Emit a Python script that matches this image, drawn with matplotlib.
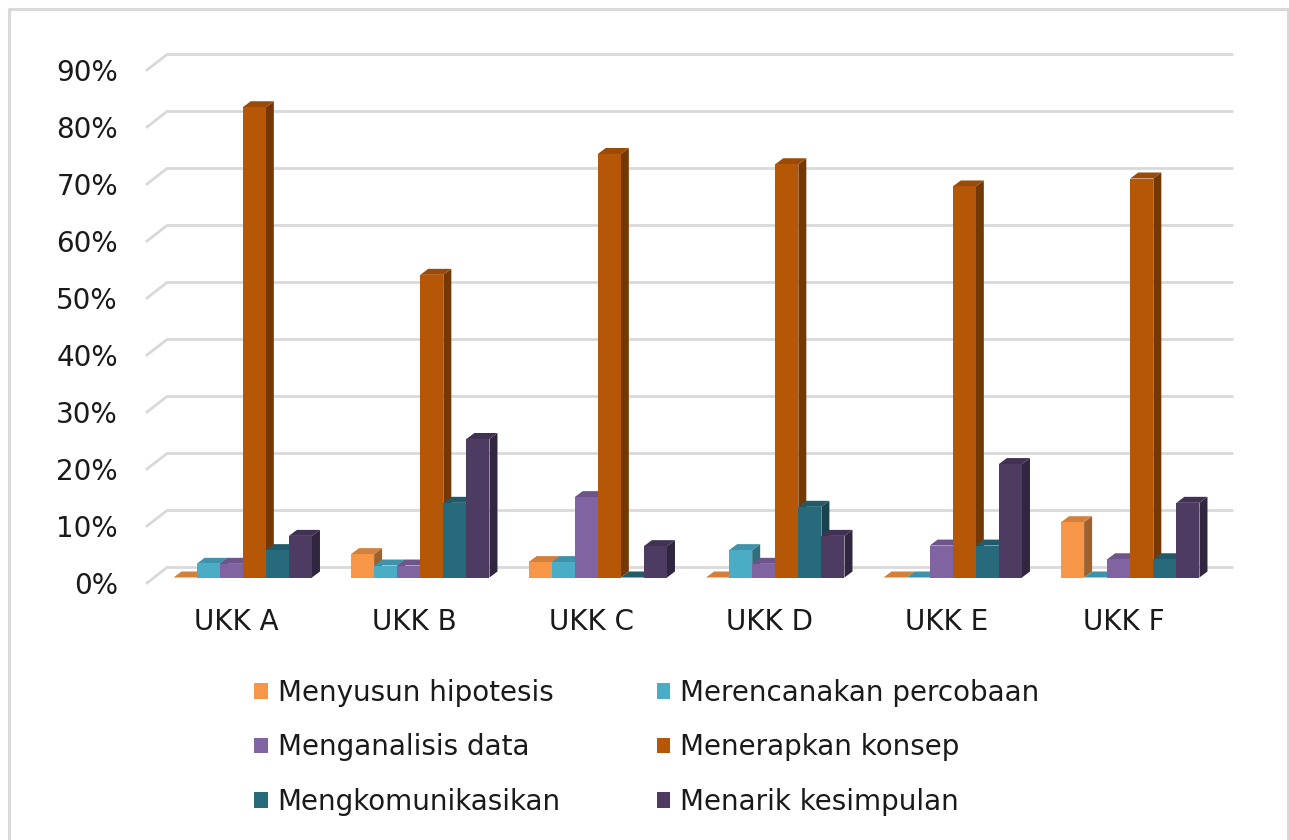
import matplotlib
matplotlib.use("Agg")
import matplotlib.pyplot as plt
from matplotlib.patches import Polygon, Patch
from matplotlib.lines import Line2D
from matplotlib.transforms import ScaledTranslation
import matplotlib.colors as mcolors

# data (percent)
categories = ["UKK A", "UKK B", "UKK C", "UKK D", "UKK E", "UKK F"]
series_names = ["Menyusun hipotesis", "Merencanakan percobaan", "Menganalisis data",
                "Menerapkan konsep", "Mengkomunikasikan", "Menarik kesimpulan"]
menyusun = [0.0, 4.1, 2.7, 0.0, 0.0, 9.7]
merencanakan = [2.4, 2.1, 2.7, 4.8, 0.0, 0.0]
menganalisis = [2.4, 2.1, 14.1, 2.4, 5.6, 3.2]
menerapkan = [82.5, 53.1, 74.3, 72.5, 68.6, 70.0]
mengkomunikasikan = [4.8, 13.1, 0.0, 12.4, 5.6, 3.2]
menarik = [7.3, 24.3, 5.5, 7.3, 19.9, 13.1]
values = [menyusun, merencanakan, menganalisis, menerapkan, mengkomunikasikan, menarik]
yticks = [0, 10, 20, 30, 40, 50, 60, 70, 80, 90]

colors = ["#F79646", "#4BACC6", "#8064A2", "#B65708", "#276A7C", "#4D3B62"]

W, H, DPI = 1289, 840, 100
fig = plt.figure(figsize=(W / DPI, H / DPI), dpi=DPI)

# axes placed so that the bar front plane maps to known pixels
x_left_px, x_right_px = 154, 1219
y0_px, px_per_pct = 577.5, 5.7
ax = fig.add_axes([x_left_px / W, (H - y0_px) / H,
                   (x_right_px - x_left_px) / W, 90 * px_per_pct / H])
ax.set_xlim(-0.5, 5.5)
ax.set_ylim(0, 90)
px_x = 6 / (x_right_px - x_left_px)  # data units per px in x
px_y = 1 / px_per_pct                # data units per px in y

# 3D offsets (in px): bar depth, back wall, front floor edge
bdx, bdy = 8 * px_x, 6 * px_y
wdx, wdy = 13 * px_x, 10 * px_y
fdx, fdy = -7 * px_x, -5.5 * px_y

for s in ax.spines.values():
    s.set_visible(False)
ax.set_facecolor("none")

# gridlines on the back wall + diagonal on the side
for v in yticks:
    ax.add_line(Line2D([-0.5 + fdx, -0.5 + wdx, 5.5 + wdx], [v + fdy, v + wdy, v + wdy],
                       color="#D9D9D9", lw=2.0, clip_on=False, zorder=1))

bw = 0.13
def shade(c, f):
    r, g, b = mcolors.to_rgb(c)
    return (r * f, g * f, b * f)

for i in range(len(categories)):
    for j, vals in enumerate(values):
        v = vals[i]
        x0 = i - 3 * bw + j * bw
        x1 = x0 + bw
        z = 2 + i * 10 + j
        c = colors[j]
        side = Polygon([(x1, 0), (x1 + bdx, bdy), (x1 + bdx, v + bdy), (x1, v)],
                       closed=True, fc=shade(c, 0.64), ec="none", clip_on=False, zorder=z)
        top = Polygon([(x0, v), (x0 + bdx, v + bdy), (x1 + bdx, v + bdy), (x1, v)],
                      closed=True, fc=shade(c, 0.85), ec="none", clip_on=False, zorder=z)
        ax.add_patch(side)
        ax.add_patch(top)
        ax.bar(x0, v, width=bw, align="edge", color=c, clip_on=False, zorder=z)

# ticks
ax.set_yticks(yticks)
ax.set_yticklabels([f"{t}%" for t in yticks], fontsize=20, color="#1a1a1a")
ax.tick_params(axis="y", length=0, pad=26)
for lab in ax.get_yticklabels():
    lab.set_transform(lab.get_transform() + ScaledTranslation(0, -5.5 / DPI, fig.dpi_scale_trans))
ax.set_xticks(range(len(categories)))
ax.set_xticklabels(categories, fontsize=20, color="#1a1a1a")
ax.tick_params(axis="x", length=0, pad=22)
for lab in ax.get_xticklabels():
    lab.set_transform(lab.get_transform() + ScaledTranslation(-6 / DPI, 0, fig.dpi_scale_trans))

# legend: row-wise order
order = [0, 2, 4, 1, 3, 5]
handles = [Patch(facecolor=colors[k], edgecolor="none") for k in order]
labels = [series_names[k] for k in order]
leg = fig.legend(handles, labels, ncol=2, loc="upper left",
                 bbox_to_anchor=(229 / W, 1 - 654 / H), frameon=False,
                 fontsize=20, handlelength=0.5, handleheight=0.5,
                 handletextpad=0.35, columnspacing=3.45, labelspacing=0.95,
                 labelcolor="#1a1a1a")

# chart border
fig.add_artist(Line2D([9 / W, 9 / W, 1287.5 / W, 1287.5 / W], [0, 1 - 9 / H, 1 - 9 / H, 0],
                      transform=fig.transFigure, color="#D9D9D9", lw=2.2))

fig.savefig("out.png", dpi=DPI)
